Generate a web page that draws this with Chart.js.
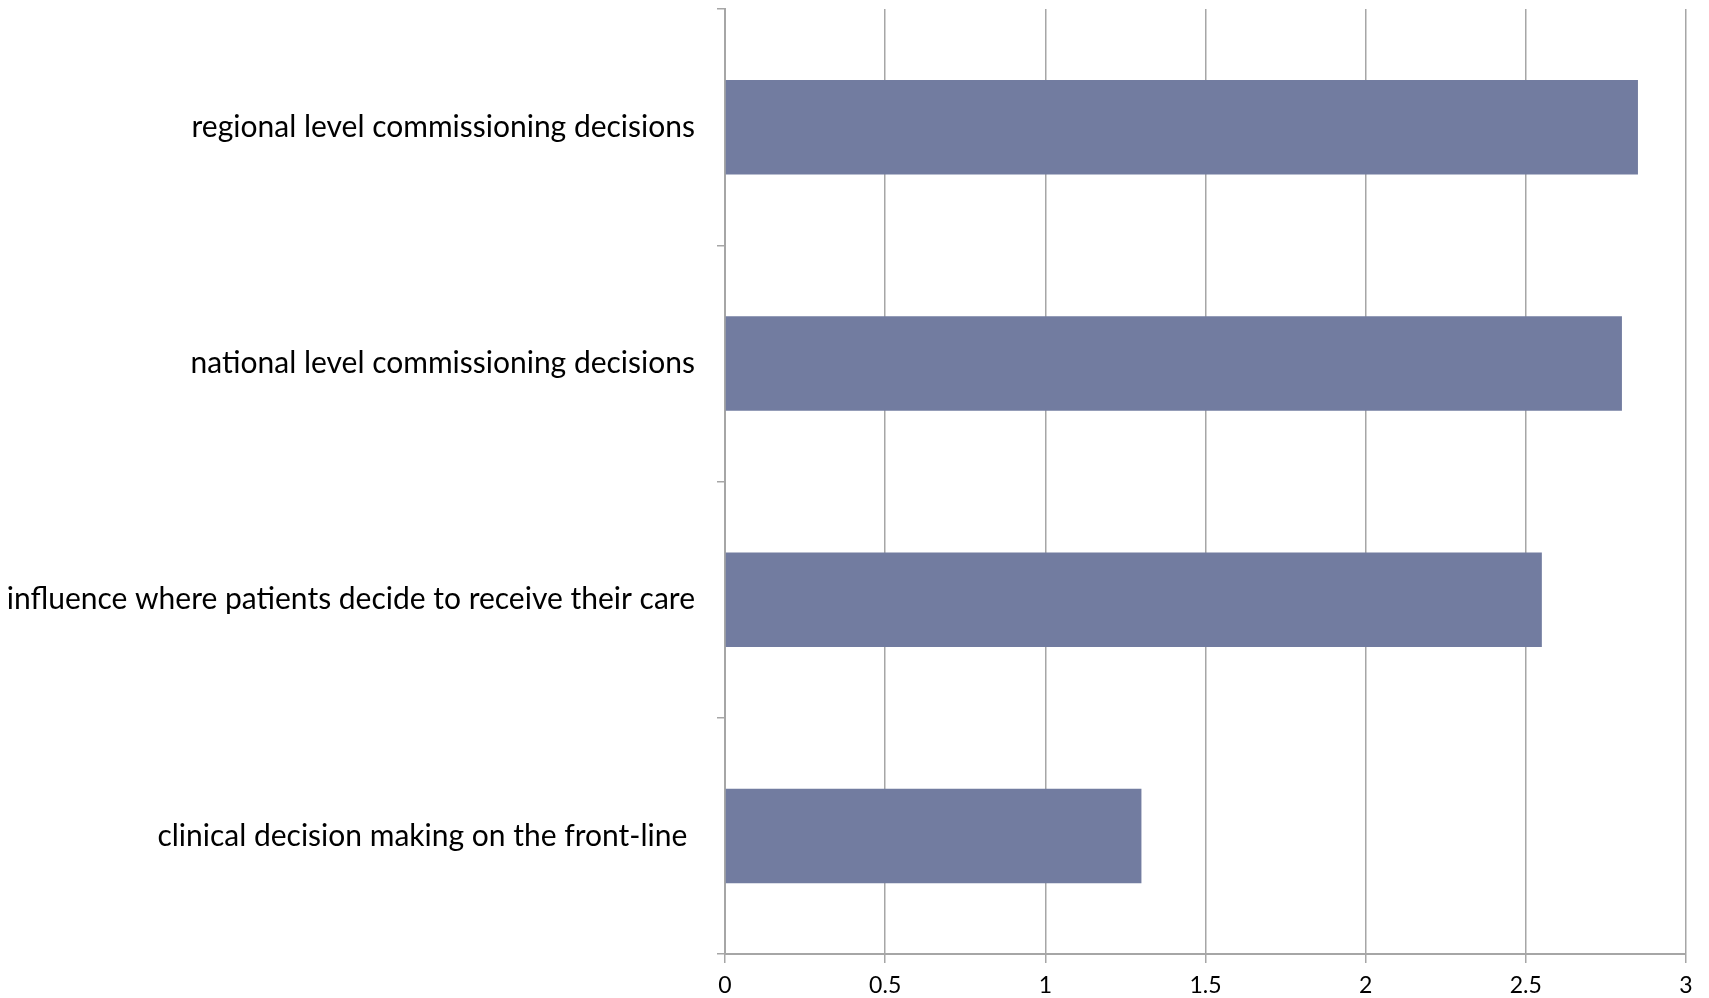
<!DOCTYPE html>
<html>
<head>
<meta charset="utf-8">
<script src="https://cdn.jsdelivr.net/npm/chart.js@4"></script>
<style>
  html, body { margin: 0; padding: 0; background: #fff; }
  #wrap { width: 1709px; height: 998px; position: relative; }
</style>
</head>
<body>
<div id="wrap"><canvas id="ch"></canvas></div>
<script>
const labels = [
  'regional level commissioning decisions',
  'national level commissioning decisions',
  'influence where patients decide to receive their care',
  'clinical decision making on the front-line '
];
const values = [2.85, 2.80, 2.55, 1.30];
const xMin = 0, xMax = 3, xStep = 0.5;

const grey = '#a6a6a6';
const font = 'Lato, "Open Sans", sans-serif';

new Chart(document.getElementById('ch'), {
  type: 'bar',
  data: {
    labels,
    datasets: [{
      data: values,
      backgroundColor: '#727ca0',
      borderWidth: 0,
      barPercentage: 0.4,
      categoryPercentage: 1
    }]
  },
  options: {
    indexAxis: 'y',
    responsive: true,
    maintainAspectRatio: false,
    animation: false,
    layout: { padding: { top: 9, right: 23, left: 0, bottom: 0 } },
    plugins: { legend: { display: false }, tooltip: { enabled: false } },
    scales: {
      x: {
        min: xMin, max: xMax,
        ticks: { stepSize: xStep, color: '#000', font: { family: font, size: 23 }, padding: 9, callback: v => String(v) },
        grid: { color: grey, lineWidth: 1.5, tickLength: 9 },
        border: { color: grey, width: 2 },
        afterFit: s => { s.height = 44; s.paddingTop = 0; s.paddingBottom = 0; }
      },
      y: {
        ticks: { color: '#000', font: { family: font, size: 30 }, padding: 22 },
        grid: { drawOnChartArea: false, color: grey, lineWidth: 1.5, tickLength: 8 },
        border: { color: grey, width: 2 },
        afterFit: s => { s.width = 725; s.paddingTop = 0; s.paddingBottom = 0; }
      }
    }
  }
});
</script>
</body>
</html>
